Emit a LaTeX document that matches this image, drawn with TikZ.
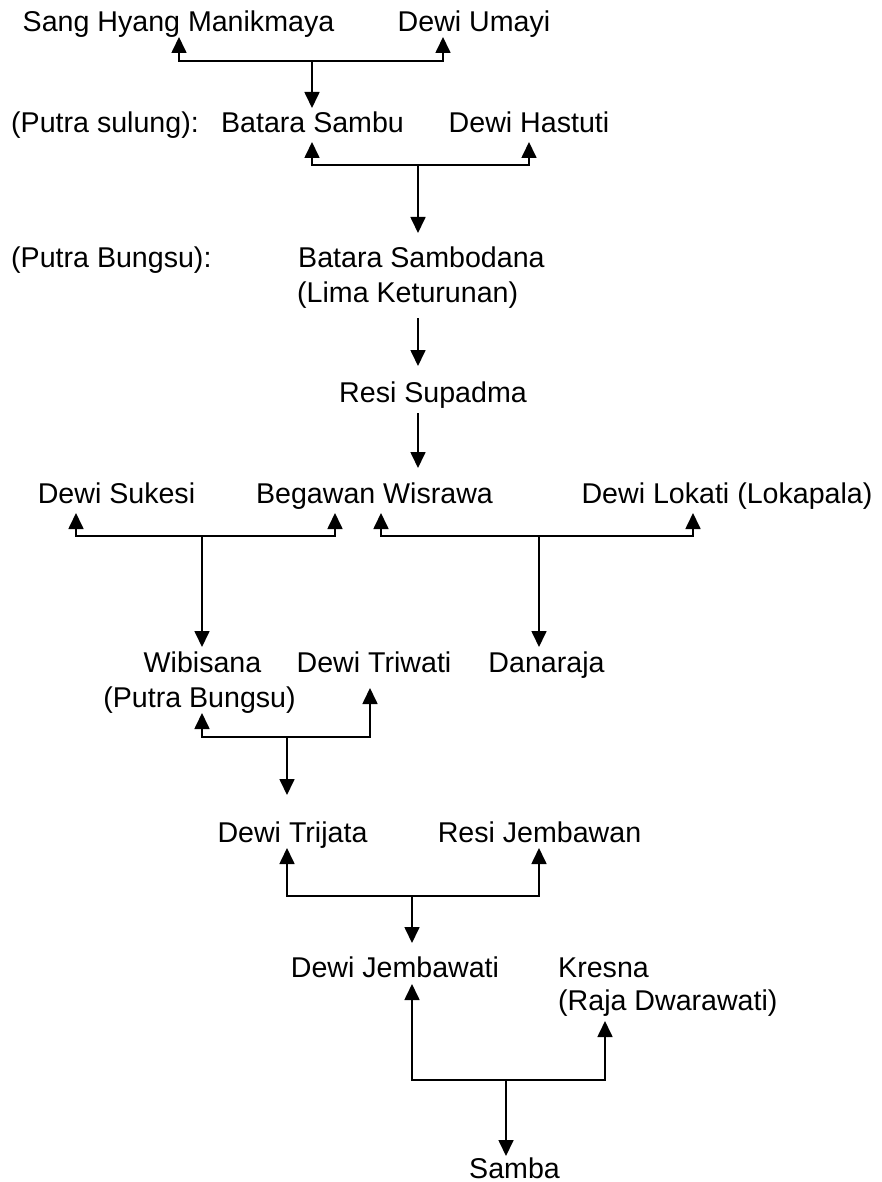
\documentclass[tikz,border=0pt]{standalone}
\usepackage{fontspec}
\setmainfont{Liberation Sans}
\usetikzlibrary{arrows.meta}
\begin{document}
\begin{tikzpicture}[x=1pt,y=-1pt,
  lbl/.style={anchor=base, inner sep=0pt, font=\fontsize{28.6}{35}\selectfont},
  lblw/.style={lbl, anchor=base west},
  link/.style={line width=1.7pt},
  arr/.style={link, -{Triangle[length=16pt,width=15pt]}}]
\fill[white] (0,0) rectangle (882,1182);
\useasboundingbox (0,0) rectangle (882,1182);

% --- names ---
\node[lbl]  (sang)      at (178.5,32)  {Sang Hyang Manikmaya};
\node[lbl]  (umayi)     at (474,32)    {Dewi Umayi};
\node[lblw] (sulung)    at (11,133)    {(Putra sulung):};
\node[lbl]  (sambu)     at (312.5,133) {Batara Sambu};
\node[lbl]  (hastuti)   at (529,133)   {Dewi Hastuti};
\node[lblw] (bungsu)    at (11,267)    {(Putra Bungsu):};
\node[lblw] (sambodana) at (298,267)   {Batara Sambodana};
\node[lblw] (lima)      at (297,302)   {(Lima Keturunan)};
\node[lbl]  (supadma)   at (433,402)   {Resi Supadma};
\node[lbl]  (sukesi)    at (116.5,503) {Dewi Sukesi};
\node[lbl]  (wisrawa)   at (374.5,503) {Begawan Wisrawa};
\node[lbl]  (lokati)    at (727,503)   {Dewi Lokati (Lokapala)};
\node[lbl]  (wibisana)  at (202.5,672) {Wibisana};
\node[lbl]  (wibisub)   at (199.5,707) {(Putra Bungsu)};
\node[lbl]  (triwati)   at (374,672)   {Dewi Triwati};
\node[lbl]  (danaraja)  at (546.5,672) {Danaraja};
\node[lbl]  (trijata)   at (292.5,842) {Dewi Trijata};
\node[lbl]  (jembawan)  at (539.5,842) {Resi Jembawan};
\node[lbl]  (jembawati) at (395,977)   {Dewi Jembawati};
\node[lblw] (kresna)    at (558,977)   {Kresna};
\node[lblw] (kresnasub) at (558,1010)  {(Raja Dwarawati)};
\node[lbl]  (samba)     at (514.5,1178) {Samba};

% --- junctions and arrow tips ---
\coordinate (j1) at (312,61);
\coordinate (t1a) at (179,37);  \coordinate (t1b) at (443,37);  \coordinate (d1) at (312,108);
\coordinate (j2) at (418,165);
\coordinate (t2a) at (312,142); \coordinate (t2b) at (529,142); \coordinate (d2) at (418,233);
\coordinate (s3) at (418,318);  \coordinate (d3) at (418,366);
\coordinate (s4) at (418,413);  \coordinate (d4) at (418,468);
\coordinate (j5) at (202,536);
\coordinate (t5a) at (76,513);  \coordinate (t5b) at (335,513); \coordinate (d5) at (202,647);
\coordinate (j6) at (539,536);
\coordinate (t6a) at (381,513); \coordinate (t6b) at (693,513); \coordinate (d6) at (539,647);
\coordinate (j7) at (287,737);
\coordinate (t7a) at (202,713); \coordinate (t7b) at (370,688); \coordinate (d7) at (287,795);
\coordinate (j8) at (412,896);
\coordinate (t8a) at (287,848); \coordinate (t8b) at (539,848); \coordinate (d8) at (412,943);
\coordinate (j9) at (506,1080);
\coordinate (t9a) at (412,984); \coordinate (t9b) at (605,1021); \coordinate (d9) at (506,1156);

% --- family links ---
\draw[arr] (j1) -| (t1a); \draw[arr] (j1) -| (t1b); \draw[arr] (j1) -- (d1);
\draw[arr] (j2) -| (t2a); \draw[arr] (j2) -| (t2b); \draw[arr] (j2) -- (d2);
\draw[arr] (s3) -- (d3);
\draw[arr] (s4) -- (d4);
\draw[arr] (j5) -| (t5a); \draw[arr] (j5) -| (t5b); \draw[arr] (j5) -- (d5);
\draw[arr] (j6) -| (t6a); \draw[arr] (j6) -| (t6b); \draw[arr] (j6) -- (d6);
\draw[arr] (j7) -| (t7a); \draw[arr] (j7) -| (t7b); \draw[arr] (j7) -- (d7);
\draw[arr] (j8) -| (t8a); \draw[arr] (j8) -| (t8b); \draw[arr] (j8) -- (d8);
\draw[arr] (j9) -| (t9a); \draw[arr] (j9) -| (t9b); \draw[arr] (j9) -- (d9);
\end{tikzpicture}
\end{document}
